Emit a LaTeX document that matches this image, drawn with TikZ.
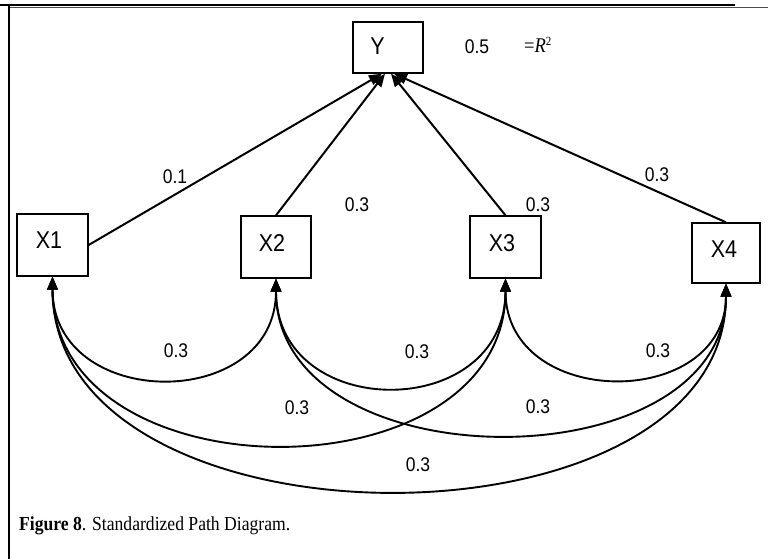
\documentclass[tikz,border=0pt]{standalone}
\usepackage{graphicx}
\usepackage{fontspec}
\setmainfont{Liberation Serif}
\newfontfamily\arialfont{Liberation Sans}
\usetikzlibrary{arrows.meta}
% text in this figure is set slightly taller than wide
\newcommand{\vs}[1]{\scalebox{1}[1.13]{#1}}

\begin{document}
\begin{tikzpicture}[x=1pt,y=-1pt,
  box/.style={draw, line width=1.3pt, inner sep=0pt},
  varname/.style={font=\arialfont\fontsize{21.5}{21.5}\selectfont, inner sep=0pt},
  coef/.style={font=\arialfont\fontsize{17.5}{17.5}\selectfont, inner sep=0pt},
  tip/.tip={Triangle[length=13pt,width=10.5pt]},
  regress/.style={line width=2pt, -tip},
  corr/.style={line width=1.9pt, tip-tip},
]
\useasboundingbox (0,0) rectangle (768,559);

% frame rules
\draw[line width=1.3pt, black!70] (9,7.8) -- (768,7.8);
\draw[line width=2.5pt] (0,5) -- (735,5);
\draw[line width=2pt] (9,6) -- (9,559);

% variable boxes
\node[box, minimum width=70, minimum height=51] (Y)  at (388,47.5) {};
\node[box, minimum width=71, minimum height=62] (X1) at (52.5,245) {};
\node[box, minimum width=70, minimum height=62] (X2) at (276,247) {};
\node[box, minimum width=71, minimum height=62] (X3) at (505.5,247) {};
\node[box, minimum width=68, minimum height=60] (X4) at (726,253) {};

\node[varname] (tY)  at (377.5,46) {\vs{Y}};
\node[varname] (tX1) at (49,240.5) {\vs{X1}};
\node[varname] (tX2) at (272,243) {\vs{X2}};
\node[varname] (tX3) at (502,243) {\vs{X3}};
\node[varname] (tX4) at (724,249) {\vs{X4}};

% R squared
\node[coef] (rsq) at (477,47) {\vs{0.5}};
\node[anchor=west, inner sep=0pt, font=\fontsize{18.5}{18.5}\selectfont] (req) at (524,45)
  {\vs{=\textit{R}\textsuperscript{\fontsize{11}{11}\selectfont 2}}};

% paths to Y
\draw[regress] (X1.east) -- ([xshift=-6]Y.south);
\draw[regress] (X2.north) -- ([xshift=-3]Y.south);
\draw[regress] (X3.north) -- ([xshift=3]Y.south);
\draw[regress] (X4.north) -- ([xshift=6]Y.south);

\node[coef] (b1) at (175,177) {\vs{0.1}};
\node[coef] (b2) at (357,205) {\vs{0.3}};
\node[coef] (b3) at (538,205) {\vs{0.3}};
\node[coef] (b4) at (657,175) {\vs{0.3}};

% correlations among predictors
\draw[corr] (X1.south) .. controls +(0,135) and +(0,134) .. (X2.south);
\draw[corr] (X2.south) .. controls +(0,144) and +(0,144) .. (X3.south);
\draw[corr] (X3.south) .. controls +(0,132) and +(0,127) .. (X4.south);
\draw[corr] (X1.south) .. controls +(0,222) and +(0,221) .. (X3.south);
\draw[corr] (X2.south) .. controls +(0,206) and +(0,201) .. (X4.south);
\draw[corr] (X1.south) .. controls +(0,283) and +(0,276) .. (X4.south);

\node[coef] (r12) at (176,351) {\vs{0.3}};
\node[coef] (r23) at (417,352) {\vs{0.3}};
\node[coef] (r34) at (658,351) {\vs{0.3}};
\node[coef] (r13) at (297,408) {\vs{0.3}};
\node[coef] (r24) at (538,407) {\vs{0.3}};
\node[coef] (r14) at (418,465) {\vs{0.3}};

% caption
\node[anchor=base west, inner sep=0pt, font=\fontsize{17.6}{17.6}\selectfont] (cap) at (19,530)
  {\vs{\textbf{Figure 8}. Standardized Path Diagram.}};
\end{tikzpicture}
\end{document}
